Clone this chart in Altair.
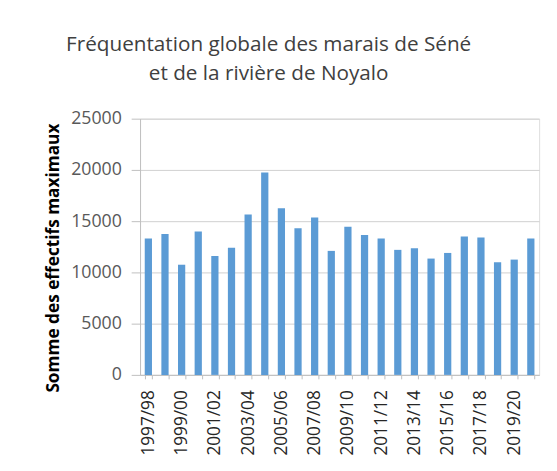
import altair as alt
import pandas as pd

saisons = ["1997/98", "1998/99", "1999/00", "2000/01", "2001/02", "2002/03",
           "2003/04", "2004/05", "2005/06", "2006/07", "2007/08", "2008/09",
           "2009/10", "2010/11", "2011/12", "2012/13", "2013/14", "2014/15",
           "2015/16", "2016/17", "2017/18", "2018/19", "2019/20", "2020/21"]
effectifs = [13300, 13750, 10750, 14000, 11600, 12400,
             15650, 19750, 16250, 14300, 15350, 12100,
             14450, 13650, 13300, 12200, 12350, 11350,
             11900, 13500, 13400, 11000, 11250, 13300]
y_ticks = [0, 5000, 10000, 15000, 20000, 25000]

df = pd.DataFrame({"saison": saisons, "effectif": effectifs})

FONT = "Open Sans"

chart = alt.Chart(df).mark_bar(color="#5B9BD5").encode(
    x=alt.X("saison:N", sort=saisons,
            scale=alt.Scale(paddingInner=0.565, paddingOuter=0.2825),
            axis=alt.Axis(title=None, labelAngle=-90, labelFontSize=17.5,
                          labelColor="#262626", labelFont=FONT,
                          labelExpr="toNumber(slice(datum.label,0,4)) % 2 == 1 ? datum.label : ''",
                          tickBand="extent", tickSize=4, tickColor="#bfbfbf",
                          domainColor="#bfbfbf", labelPadding=11)),
    y=alt.Y("effectif:Q",
            scale=alt.Scale(domain=[0, 25000], nice=False),
            axis=alt.Axis(title="Somme des effectifs maximaux", values=y_ticks, format="d",
                          titleFont=FONT, titleFontSize=17.5, titleFontWeight="bold",
                          titleColor="#000000", titlePadding=8, titleY=141,
                          labelFont=FONT, labelFontSize=18, labelColor="#595959",
                          labelPadding=10, tickSize=9, tickColor="#bfbfbf",
                          domain=True, domainColor="#bfbfbf",
                          grid=True, gridColor="#d0d0d0")),
).properties(
    width=405,
    height=260,
    title=alt.TitleParams(
        text=["Fréquentation globale des marais de Séné", "et de la rivière de Noyalo"],
        font=FONT, fontSize=21, fontWeight="normal", color="#404040",
        lineHeight=30, anchor="middle", dx=-72, offset=26),
    autosize=alt.AutoSizeParams(type="none"),
    padding={"left": 134, "top": 109, "right": 10, "bottom": 80},
).configure_view(stroke=None).configure(background="#ffffff")

chart.save("out.html", embed_options={"renderer": "svg", "actions": False})
